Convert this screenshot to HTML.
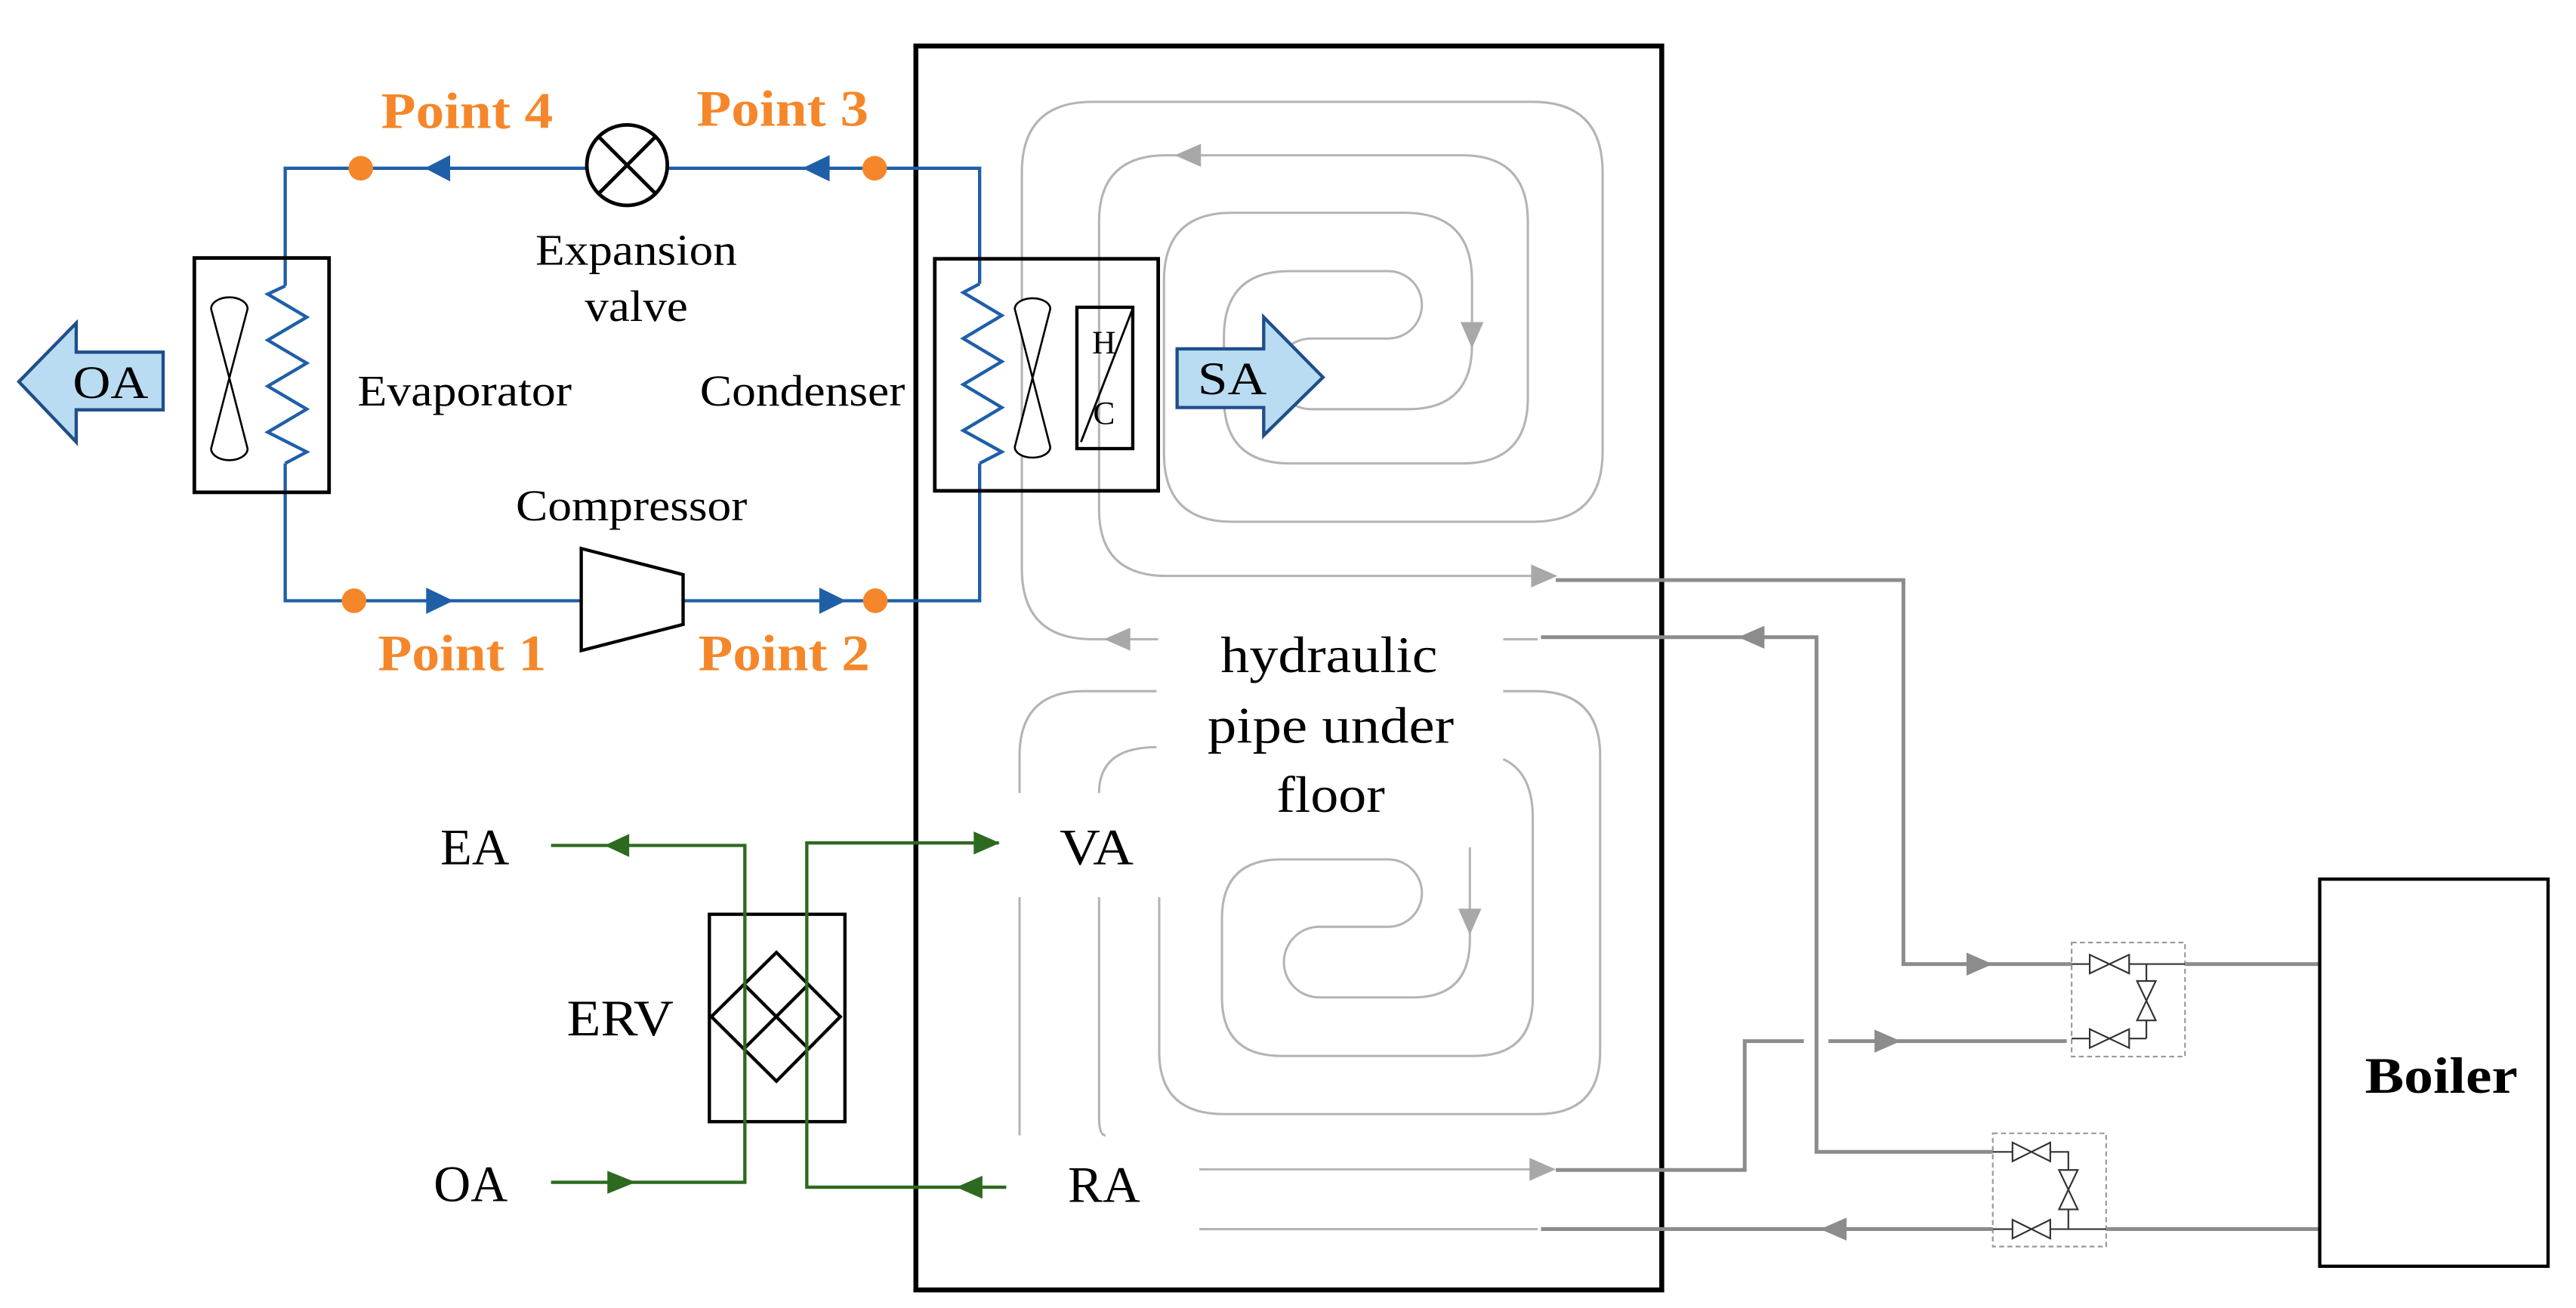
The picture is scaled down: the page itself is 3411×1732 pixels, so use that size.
<!DOCTYPE html>
<html><head><meta charset="utf-8"><style>
html,body{margin:0;padding:0;background:#fff;}
svg{display:block;}
text{font-family:"Liberation Serif",serif;}
</style></head><body>
<svg width="3411" height="1732" viewBox="0 0 1568 796" preserveAspectRatio="none" xmlns="http://www.w3.org/2000/svg">
<rect x="0" y="0" width="1568" height="796" fill="#fff"/>

<!-- Big room box -->
<rect x="557.5" y="28" width="454" height="757" fill="none" stroke="#000" stroke-width="3"/>

<!-- Top floor spiral -->
<g fill="none" stroke="#b4b4b4" stroke-width="1.4">
<path d="M705,389 H665 Q622,389 622,346 V105 Q622,62 665,62 H933 Q975.5,62 975.5,105 V275 Q975.5,317.5 933,317.5 H750 Q708.5,317.5 708.5,276 V171 Q708.5,129.5 750,129.5 H855 Q896,129.5 896,171 V210 Q896,249 857,249 H798 A21.5,21.5 0 0 1 798,206 H845 A20.5,20.5 0 0 0 845,165 H785 Q745,165 745,205 V242 Q745,282 785,282 H890 Q930,282 930,242 V135 Q930,94.5 890,94.5 H710 Q669,94.5 669,135 V310 Q669,350.5 710,350.5 H946"/>
<path d="M915,389 H936"/>
<!-- Bottom spiral -->
<path d="M704,420.6 H660 Q620.6,420.6 620.6,460 V482.6"/>
<path d="M620.6,546 V691"/>
<path d="M704,454.7 Q669,454.7 669,482.6"/>
<path d="M669,546 V680 Q669,691 673,691"/>
<path d="M915,420.6 H934 Q974,420.6 974,460 V640 Q974,678 936,678 H745 Q705.6,678 705.6,640 V546"/>
<path d="M915,462 Q933,470 933,498 V607 Q933,642.6 897,642.6 H780 Q743.8,642.6 743.8,607 V559 Q743.8,523 780,523 H845 A20.5,20.5 0 0 1 845,564 H803 A21.5,21.5 0 0 0 803,607 H860 Q894.7,607 894.7,572 V515.6"/>
<path d="M730,711.6 H946"/>
<path d="M730,748 H936"/>
</g>
<g fill="#a8a8a8">
<polygon points="672,389 688,382 688,396"/>
<polygon points="715,94.5 731,87.5 731,101.5"/>
<polygon points="896,212 889,196 903,196"/>
<polygon points="948,350.5 932,343.5 932,357.5"/>
<polygon points="894.7,569 887.7,553 901.7,553"/>
<polygon points="947,711.6 931,704.6 931,718.6"/>
</g>

<!-- Boiler pipes -->
<g fill="none" stroke="#8c8c8c" stroke-width="2.3">
<path d="M947,353 H1158.6 V586.7 H1261"/>
<path d="M938,387.8 H1105.7 V701 H1213"/>
<path d="M947,712 H1062 V633.6 H1098"/>
<path d="M1113,633.6 H1258"/>
<path d="M938,748 H1213"/>
<path d="M1330,586.7 H1412"/>
<path d="M1282,748 H1412"/>
</g>
<g fill="#8c8c8c">
<polygon points="1213,586.7 1197,579.7 1197,593.7"/>
<polygon points="1058,387.8 1074,380.8 1074,394.8"/>
<polygon points="1157,633.6 1141,626.6 1141,640.6"/>
<polygon points="1108,748 1124,741 1124,755"/>
</g>
<!-- Valve boxes -->
<g fill="none" stroke="#999" stroke-width="1" stroke-dasharray="3,2">
<rect x="1261" y="573.6" width="69" height="69.4"/>
<rect x="1213" y="689.7" width="69" height="68.9"/>
</g>
<g fill="#fff" stroke="#333" stroke-width="1">
<path d="M1261,586.7 H1272 M1296,586.7 H1330 M1306.5,586.7 V597 M1306.5,621 V632 M1261,632 H1272 M1296,632 H1306.5" fill="none"/>
<path d="M1272,581 L1284,586.7 L1272,592.4 Z M1296,581 L1284,586.7 L1296,592.4 Z"/>
<path d="M1272,626.3 L1284,632 L1272,637.7 Z M1296,626.3 L1284,632 L1296,637.7 Z"/>
<path d="M1300.8,597 L1306.5,609 L1312.2,597 Z M1300.8,621 L1306.5,609 L1312.2,621 Z"/>
<path d="M1213,701 H1225 M1248,701 H1259 V712 M1259,736 V748 M1213,748 H1225 M1248,748 H1282" fill="none"/>
<path d="M1225,695.3 L1236.5,701 L1225,706.7 Z M1248,695.3 L1236.5,701 L1248,706.7 Z"/>
<path d="M1225,742.3 L1236.5,748 L1225,753.7 Z M1248,742.3 L1236.5,748 L1248,753.7 Z"/>
<path d="M1253.3,712 L1259,724 L1264.7,712 Z M1253.3,736 L1259,724 L1264.7,736 Z"/>
</g>
<!-- Boiler -->
<rect x="1412" y="535" width="139" height="235.6" fill="#fff" stroke="#000" stroke-width="2"/>
<text x="1486" y="665" font-size="31" font-weight="bold" text-anchor="middle" textLength="93" lengthAdjust="spacingAndGlyphs">Boiler</text>

<!-- Refrigerant loop -->
<g fill="none" stroke="#1f5fa8" stroke-width="2">
<path d="M173.6,174 V102.4 H357 M406.4,102.4 H596.3 V172.7"/>
<path d="M173.6,282 V365.6 H353.8 M415.8,365.6 H596.3 V282"/>
<path d="M173.6,174 L163,179 L186.7,193 L163,207 L186.7,221 L163,235 L186.7,249 L163,263 L186.7,275 L173.6,282"/>
<path d="M596.3,172.7 L586.3,178 L609.8,192 L586.3,206 L609.8,220 L586.3,234 L609.8,248 L586.3,262 L609.8,275 L596.3,282"/>
</g>
<g fill="#1f5fa8">
<polygon points="258.6,102.4 274,94.4 274,110.4"/>
<polygon points="488.4,102.4 505,94.4 505,110.4"/>
<polygon points="276,365.6 259.4,357.6 259.4,373.6"/>
<polygon points="515,365.6 498.7,357.6 498.7,373.6"/>
</g>
<g fill="#f5872a">
<circle cx="219.6" cy="102.4" r="7.5"/>
<circle cx="532.4" cy="102.4" r="7.5"/>
<circle cx="215.5" cy="365.6" r="7.5"/>
<circle cx="532.8" cy="365.6" r="7.5"/>
</g>
<!-- Expansion valve -->
<circle cx="381.7" cy="100.5" r="24.5" fill="#fff" stroke="#000" stroke-width="2.2"/>
<path d="M364.4,83.2 L399,117.8 M399,83.2 L364.4,117.8" stroke="#000" stroke-width="2.2"/>
<!-- Compressor -->
<polygon points="353.8,333.8 415.8,349.7 415.8,380 353.8,395.9" fill="#fff" stroke="#000" stroke-width="2"/>

<!-- Evaporator box -->
<rect x="118.3" y="157" width="82" height="142.6" fill="none" stroke="#000" stroke-width="2.2"/>
<g fill="#fff" stroke="#000" stroke-width="1.2">
<path d="M139.6,230 L128.5,188 A11,7 0 0 1 150.7,188 Z"/>
<path d="M139.6,230 L128.5,273 A11,7 0 0 0 150.7,273 Z"/>
</g>
<!-- Condenser box -->
<rect x="569" y="157.5" width="136" height="141.2" fill="none" stroke="#000" stroke-width="2.2"/>
<g fill="#fff" stroke="#000" stroke-width="1.2">
<path d="M628.5,230 L617.7,188 A10.8,6.5 0 0 1 639.3,188 Z"/>
<path d="M628.5,230 L617.7,272 A10.8,6.5 0 0 0 639.3,272 Z"/>
</g>
<rect x="655.5" y="187" width="34" height="86" fill="none" stroke="#000" stroke-width="2"/>
<path d="M658,269 L689,189" stroke="#000" stroke-width="1.3"/>
<text x="672" y="215" font-size="20" text-anchor="middle">H</text>
<text x="672" y="258" font-size="20" text-anchor="middle">C</text>

<!-- OA / SA arrows -->
<polygon points="11.5,232.3 46.4,196.6 46.4,214.3 99.3,214.3 99.3,249.4 46.4,249.4 46.4,269" fill="#b9dcf2" stroke="#1f4e8a" stroke-width="2"/>
<text x="67.3" y="242.3" font-size="28" text-anchor="middle" textLength="46" lengthAdjust="spacingAndGlyphs">OA</text>
<polygon points="716.5,212.3 769.2,212.3 769.2,193 805.3,229.6 769.2,265 769.2,248 716.5,248" fill="#b9dcf2" stroke="#1f4e8a" stroke-width="2"/>
<text x="750" y="240" font-size="28" text-anchor="middle" textLength="42" lengthAdjust="spacingAndGlyphs">SA</text>

<!-- Labels -->
<g fill="#f5872a" font-weight="bold" font-size="31">
<text x="232" y="77.9" textLength="104.6" lengthAdjust="spacingAndGlyphs">Point 4</text>
<text x="424" y="76.5" textLength="104.7" lengthAdjust="spacingAndGlyphs">Point 3</text>
<text x="230" y="407.8" textLength="102.5" lengthAdjust="spacingAndGlyphs">Point 1</text>
<text x="425" y="407.8" textLength="104.5" lengthAdjust="spacingAndGlyphs">Point 2</text>
</g>
<g fill="#000" font-size="27">
<text x="326" y="161" textLength="122.6" lengthAdjust="spacingAndGlyphs">Expansion</text>
<text x="356" y="195.3" textLength="62.7" lengthAdjust="spacingAndGlyphs">valve</text>
<text x="217.6" y="246.8" textLength="130.4" lengthAdjust="spacingAndGlyphs">Evaporator</text>
<text x="426" y="246.8" textLength="124.9" lengthAdjust="spacingAndGlyphs">Condenser</text>
<text x="314" y="316.7" textLength="140.8" lengthAdjust="spacingAndGlyphs">Compressor</text>
</g>
<g fill="#000" font-size="31">
<text x="743" y="409" textLength="132" lengthAdjust="spacingAndGlyphs">hydraulic</text>
<text x="735" y="452" textLength="150" lengthAdjust="spacingAndGlyphs">pipe under</text>
<text x="777" y="494" textLength="66" lengthAdjust="spacingAndGlyphs">floor</text>
<text x="645" y="526" textLength="45" lengthAdjust="spacingAndGlyphs">VA</text>
<text x="650" y="731.5" textLength="44" lengthAdjust="spacingAndGlyphs">RA</text>
<text x="268" y="526" textLength="42" lengthAdjust="spacingAndGlyphs">EA</text>
<text x="264" y="731" textLength="45" lengthAdjust="spacingAndGlyphs">OA</text>
<text x="345" y="630" textLength="65" lengthAdjust="spacingAndGlyphs">ERV</text>
</g>

<!-- ERV -->
<rect x="431.8" y="556.4" width="82.5" height="126.2" fill="none" stroke="#000" stroke-width="2"/>
<g fill="none" stroke="#000" stroke-width="2">
<polygon points="472.6,579.6 511.5,618.7 472.6,658 433,618.7"/>
<path d="M452.8,599 L492.2,638.3 M492.2,599 L452.8,638.3"/>
</g>
<g fill="none" stroke="#2d6a1f" stroke-width="2">
<path d="M335.4,514.5 H453.4 V719.5 H335.4"/>
<path d="M608,513 H491.1 V722.5 H612.5"/>
</g>
<g fill="#2d6a1f">
<polygon points="368,514.5 383,507.5 383,521.5"/>
<polygon points="387,719.5 369.7,712.5 369.7,726.5"/>
<polygon points="608.6,513 592.7,506 592.7,520"/>
<polygon points="582,722.5 598,715.5 598,729.5"/>
</g>
</svg>
</body></html>
